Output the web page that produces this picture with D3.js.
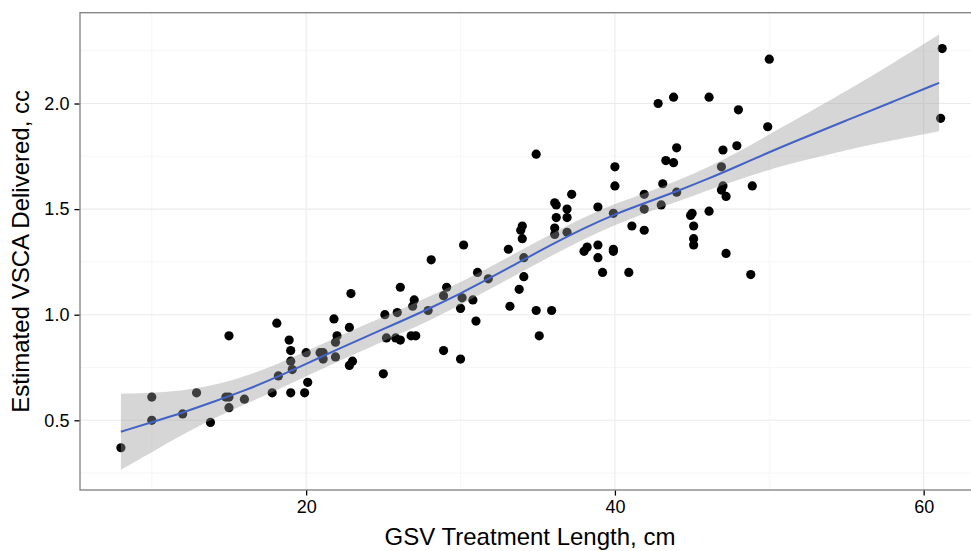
<!DOCTYPE html>
<html>
<head>
<meta charset="utf-8">
<script src="https://cdn.jsdelivr.net/npm/d3@7"></script>
<style>
  html, body { margin: 0; padding: 0; background: #fff; }
  svg { display: block; }
</style>
</head>
<body>
<div id="chart"></div>
<script>
// ---------------------------------------------------------------------------
// Scatter of treatment length vs delivered volume, with loess smooth + band
// ---------------------------------------------------------------------------

const ptX = [
  8, 10, 10, 12, 12.9, 13.8, 14.8, 15, 15, 15, 16, 17.8, 18.1, 18.2, 18.9, 19, 19, 19.1, 19,
  19.9, 20.1, 20, 20.9, 21.1, 21.1, 21.8, 22, 21.9, 21.9, 22.9, 22.8, 23, 22.8,
  25, 25.1, 25.2, 25.9, 25.8, 26.1, 26.1, 26.8, 27.1, 26.9, 27, 27.9, 28.1, 28.9, 29.1, 28.9,
  30, 30.1, 30, 30.2, 30.8, 31.1, 31, 31.8, 33.2, 33.1, 33.8, 34.1, 34.1, 34, 33.9, 34,
  34.9, 35.1, 35.9, 34.9, 36.1, 36.2, 36.2, 36.1, 36.1, 37.2, 36.9, 36.9, 36.9,
  38, 38.2, 38.9, 38.9, 38.9, 39.2, 39.9, 39.9, 40, 40, 39.9, 40.9, 41.1, 41.9, 41.9, 41.9,
  42.8, 43.3, 43.1, 43, 43.8, 44, 43.8, 44, 46.1, 48, 50, 49.9, 47.9, 47, 46.9, 47, 46.9,
  47.2, 48.9, 46.1, 44.9, 45, 45.1, 45.1, 45.1, 47.2, 48.8, 61.2, 61.1,
];
const ptY = [
  0.37, 0.61, 0.50, 0.53, 0.63, 0.49, 0.61, 0.61, 0.56, 0.90, 0.60, 0.63, 0.96, 0.71, 0.88, 0.83, 0.78, 0.74, 0.63,
  0.63, 0.68, 0.82, 0.82, 0.82, 0.79, 0.98, 0.90, 0.87, 0.80, 1.10, 0.94, 0.78, 0.76,
  0.72, 1.00, 0.89, 1.01, 0.89, 0.88, 1.13, 0.90, 0.90, 1.04, 1.07, 1.02, 1.26, 1.09, 1.13, 0.83,
  1.03, 1.08, 0.79, 1.33, 1.07, 1.20, 0.97, 1.17, 1.04, 1.31, 1.12, 1.18, 1.27, 1.42, 1.40, 1.36,
  1.02, 0.90, 1.02, 1.76, 1.53, 1.52, 1.46, 1.41, 1.38, 1.57, 1.50, 1.46, 1.39,
  1.30, 1.32, 1.51, 1.33, 1.27, 1.20, 1.31, 1.30, 1.70, 1.61, 1.48, 1.20, 1.42, 1.57, 1.50, 1.40,
  2.00, 1.73, 1.62, 1.52, 2.03, 1.79, 1.72, 1.58, 2.03, 1.97, 2.21, 1.89, 1.80, 1.78, 1.70, 1.61, 1.59,
  1.56, 1.61, 1.49, 1.47, 1.48, 1.42, 1.36, 1.33, 1.29, 1.19, 2.26, 1.93,
];

// smooth curve and its confidence band
const smoothX = [8, 10, 12, 14, 16, 18, 20, 22, 24, 26, 28, 30, 32, 34, 36, 38, 40, 42, 44, 46, 48, 50, 52, 55, 58, 61];
const smoothFit = [0.446, 0.491, 0.536, 0.588, 0.640, 0.701, 0.767, 0.835, 0.900, 0.964, 1.030, 1.100, 1.177,
  1.257, 1.336, 1.410, 1.476, 1.530, 1.584, 1.642, 1.705, 1.770, 1.831, 1.920, 2.008, 2.098];
const smoothLow = [0.266, 0.349, 0.432, 0.510, 0.574, 0.640, 0.708, 0.777, 0.841, 0.907, 0.973, 1.046, 1.125,
  1.205, 1.284, 1.358, 1.426, 1.483, 1.534, 1.588, 1.640, 1.687, 1.726, 1.780, 1.826, 1.869];
const smoothHigh = [0.626, 0.630, 0.640, 0.666, 0.706, 0.762, 0.826, 0.893, 0.959, 1.021, 1.087, 1.154, 1.229,
  1.309, 1.388, 1.462, 1.526, 1.577, 1.634, 1.696, 1.770, 1.853, 1.936, 2.060, 2.190, 2.327];

const xMajor = [20, 40, 60];
const xMinor = [10, 30, 50];
const yMajor = [0.5, 1.0, 1.5, 2.0];
const yMinor = [0.25, 0.75, 1.25, 1.75, 2.25];

const width = 971;
const height = 551;
const panel = { left: 80, right: 980, top: 12.7, bottom: 490 };
const font = '"Liberation Sans", Arial, Helvetica, sans-serif';

const x = d3.scaleLinear().domain([5.35, 63.65]).range([panel.left, panel.right]);
const y = d3.scaleLinear().domain([0.17, 2.43]).range([panel.bottom, panel.top]);

const svg = d3
  .select('#chart')
  .append('svg')
  .attr('width', width)
  .attr('height', height)
  .style('font-family', font);

svg.append('defs')
  .append('clipPath')
  .attr('id', 'panel-clip')
  .append('rect')
  .attr('x', panel.left)
  .attr('y', panel.top)
  .attr('width', panel.right - panel.left)
  .attr('height', panel.bottom - panel.top);

const g = svg.append('g').attr('clip-path', 'url(#panel-clip)');

// grid, minor then major
g.selectAll('line.ymin')
  .data(yMinor)
  .join('line')
  .attr('x1', panel.left).attr('x2', panel.right)
  .attr('y1', (d) => y(d)).attr('y2', (d) => y(d))
  .attr('stroke', '#f7f7f7').attr('stroke-width', 1.1);
g.selectAll('line.xmin')
  .data(xMinor)
  .join('line')
  .attr('y1', panel.top).attr('y2', panel.bottom)
  .attr('x1', (d) => x(d)).attr('x2', (d) => x(d))
  .attr('stroke', '#f7f7f7').attr('stroke-width', 1.1);
g.selectAll('line.ymaj')
  .data(yMajor)
  .join('line')
  .attr('x1', panel.left).attr('x2', panel.right)
  .attr('y1', (d) => y(d)).attr('y2', (d) => y(d))
  .attr('stroke', '#ebebeb').attr('stroke-width', 1.1);
g.selectAll('line.xmaj')
  .data(xMajor)
  .join('line')
  .attr('y1', panel.top).attr('y2', panel.bottom)
  .attr('x1', (d) => x(d)).attr('x2', (d) => x(d))
  .attr('stroke', '#ebebeb').attr('stroke-width', 1.1);

// points
g.selectAll('circle')
  .data(ptX.map((v, i) => [v, ptY[i]]))
  .join('circle')
  .attr('cx', (d) => x(d[0]))
  .attr('cy', (d) => y(d[1]))
  .attr('r', 4.6)
  .attr('fill', '#000');

// band on top of the points, like ggplot draws it
const smooth = smoothX.map((v, i) => ({ x: v, fit: smoothFit[i], lo: smoothLow[i], hi: smoothHigh[i] }));

g.append('path')
  .datum(smooth)
  .attr('fill', '#999999')
  .attr('fill-opacity', 0.4)
  .attr('d', d3.area()
    .x((d) => x(d.x))
    .y0((d) => y(d.lo))
    .y1((d) => y(d.hi))
    .curve(d3.curveBasis));

g.append('path')
  .datum(smooth)
  .attr('fill', 'none')
  .attr('stroke', '#4262c6')
  .attr('stroke-width', 2)
  .attr('d', d3.line()
    .x((d) => x(d.x))
    .y((d) => y(d.fit))
    .curve(d3.curveBasis));

// panel border
svg.append('rect')
  .attr('x', panel.left)
  .attr('y', panel.top)
  .attr('width', panel.right - panel.left)
  .attr('height', panel.bottom - panel.top)
  .attr('fill', 'none')
  .attr('stroke', '#7f7f7f')
  .attr('stroke-width', 1.3);

// axes
const xAxis = svg.append('g')
  .attr('transform', `translate(0,${panel.bottom + 0.6})`)
  .call(d3.axisBottom(x).tickValues(xMajor).tickSize(5).tickPadding(5).tickFormat(d3.format('d')));
const yAxis = svg.append('g')
  .attr('transform', `translate(${panel.left - 0.6},0)`)
  .call(d3.axisLeft(y).tickValues(yMajor).tickSize(5).tickPadding(5).tickFormat(d3.format('.1f')));

[xAxis, yAxis].forEach((ax) => {
  ax.select('.domain').remove();
  ax.selectAll('.tick line').attr('stroke', '#000').attr('stroke-width', 1.3);
  ax.selectAll('.tick text')
    .attr('fill', '#000')
    .style('font-size', '18px')
    .style('font-family', font);
});

svg.append('text')
  .attr('x', (panel.left + panel.right) / 2)
  .attr('y', 545)
  .attr('text-anchor', 'middle')
  .style('font-size', '24px')
  .text('GSV Treatment Length, cm');

svg.append('text')
  .attr('transform', `translate(29,${(panel.top + panel.bottom) / 2}) rotate(-90)`)
  .attr('text-anchor', 'middle')
  .style('font-size', '24px')
  .text('Estimated VSCA Delivered, cc');
</script>
</body>
</html>
